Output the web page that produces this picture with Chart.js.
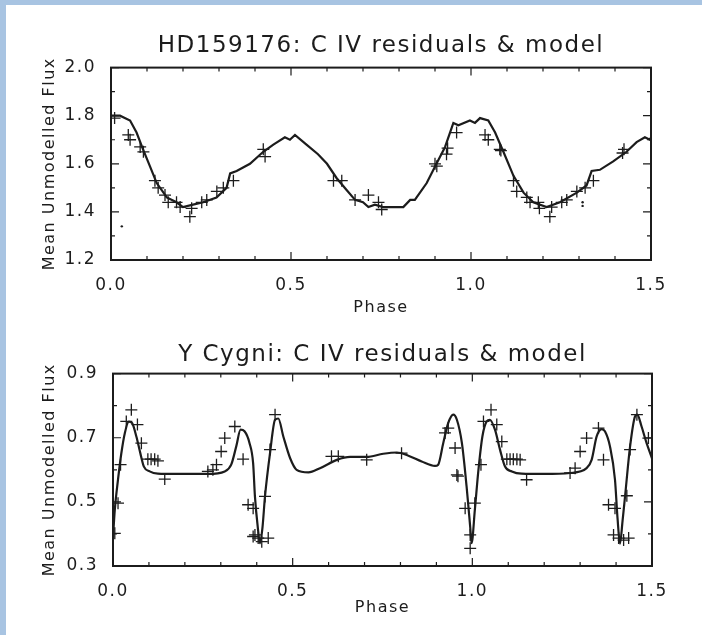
<!DOCTYPE html>
<html>
<head>
<meta charset="utf-8">
<script src="https://cdn.jsdelivr.net/npm/chart.js@4.4.1/dist/chart.umd.min.js"></script>
<style>
  html, body { margin: 0; padding: 0; }
  body { width: 702px; height: 635px; background: #a8c4e2; position: relative; overflow: hidden; }
  #sheet { position: absolute; left: 6px; top: 5px; right: 0; bottom: 0; background: #fff; }
  canvas { position: absolute; left: 0; }
  #topChart { top: 0; }
  #bottomChart { top: 320px; }
</style>
</head>
<body>
<div id="sheet"></div>
<canvas id="topChart" width="702" height="320"></canvas>
<canvas id="bottomChart" width="702" height="315"></canvas>
<script>
// HD159176 panel
const topModelPhase = [0.0, 0.025, 0.053, 0.071, 0.089, 0.108, 0.127, 0.155, 0.182, 0.2, 0.228, 0.256, 0.293, 0.321, 0.331, 0.349, 0.386, 0.423, 0.451, 0.483, 0.497, 0.511, 0.543, 0.575, 0.6, 0.627, 0.655, 0.678, 0.7, 0.715, 0.733, 0.756, 0.812, 0.831, 0.844, 0.877, 0.904, 0.928, 0.951, 0.965, 0.997, 1.011, 1.025, 1.048, 1.067, 1.09, 1.118, 1.146, 1.173, 1.21, 1.247, 1.294, 1.321, 1.335, 1.358, 1.395, 1.432, 1.46, 1.483, 1.497, 1.5];
const topModelFlux  = [1.80, 1.80, 1.78, 1.73, 1.66, 1.59, 1.52, 1.46, 1.44, 1.42, 1.43, 1.44, 1.46, 1.50, 1.56, 1.57, 1.60, 1.65, 1.68, 1.71, 1.70, 1.72, 1.68, 1.64, 1.60, 1.54, 1.49, 1.45, 1.44, 1.42, 1.43, 1.42, 1.42, 1.45, 1.45, 1.52, 1.60, 1.67, 1.77, 1.76, 1.78, 1.77, 1.79, 1.78, 1.73, 1.65, 1.55, 1.48, 1.44, 1.42, 1.44, 1.48, 1.51, 1.57, 1.575, 1.61, 1.65, 1.69, 1.71, 1.70, 1.71];
const topObsPhase = [0.01, 0.048, 0.053, 0.081, 0.09, 0.122, 0.131, 0.15, 0.159, 0.182, 0.192, 0.219, 0.224, 0.252, 0.266, 0.294, 0.312, 0.34, 0.423, 0.428, 0.618, 0.641, 0.678, 0.715, 0.743, 0.752, 0.9, 0.905, 0.932, 0.935, 0.96, 1.039, 1.048, 1.08, 1.083, 1.118, 1.127, 1.155, 1.164, 1.187, 1.19, 1.219, 1.224, 1.252, 1.266, 1.294, 1.317, 1.34, 1.421, 1.425];
const topObsFlux  = [1.79, 1.72, 1.70, 1.67, 1.65, 1.53, 1.50, 1.47, 1.44, 1.44, 1.42, 1.38, 1.415, 1.44, 1.45, 1.485, 1.50, 1.53, 1.66, 1.63, 1.53, 1.53, 1.45, 1.47, 1.44, 1.41, 1.60, 1.59, 1.64, 1.665, 1.73, 1.72, 1.70, 1.66, 1.655, 1.53, 1.485, 1.46, 1.44, 1.44, 1.415, 1.38, 1.42, 1.44, 1.45, 1.485, 1.50, 1.53, 1.645, 1.66];
const topDotPhase = [0.03, 1.31, 1.31];
const topDotFlux  = [1.34, 1.44, 1.425];
const topYTicks = [1.2, 1.4, 1.6, 1.8, 2.0];

// Y Cygni panel
const botModelPhase = [0.0, 0.005, 0.014, 0.023, 0.033, 0.044, 0.053, 0.065, 0.076, 0.086, 0.102, 0.125, 0.172, 0.264, 0.311, 0.329, 0.343, 0.355, 0.366, 0.38, 0.39, 0.395, 0.403, 0.409, 0.416, 0.423, 0.437, 0.451, 0.46, 0.474, 0.493, 0.511, 0.544, 0.576, 0.623, 0.66, 0.706, 0.752, 0.79, 0.822, 0.859, 0.896, 0.905, 0.919, 0.933, 0.947, 0.957, 0.971, 0.984, 0.994, 0.998, 1.007, 1.017, 1.028, 1.04, 1.049, 1.063, 1.077, 1.091, 1.11, 1.137, 1.202, 1.272, 1.318, 1.332, 1.346, 1.36, 1.369, 1.383, 1.397, 1.404, 1.411, 1.418, 1.425, 1.439, 1.453, 1.459, 1.471, 1.485, 1.5];
const botModelFlux  = [0.39, 0.475, 0.57, 0.65, 0.715, 0.75, 0.746, 0.704, 0.652, 0.61, 0.595, 0.588, 0.587, 0.587, 0.595, 0.616, 0.673, 0.725, 0.72, 0.683, 0.62, 0.517, 0.42, 0.371, 0.42, 0.517, 0.652, 0.756, 0.76, 0.704, 0.636, 0.60, 0.592, 0.605, 0.631, 0.64, 0.64, 0.65, 0.654, 0.644, 0.626, 0.612, 0.616, 0.683, 0.746, 0.772, 0.756, 0.683, 0.548, 0.423, 0.371, 0.475, 0.60, 0.704, 0.751, 0.756, 0.725, 0.663, 0.61, 0.595, 0.588, 0.587, 0.59, 0.605, 0.631, 0.704, 0.727, 0.72, 0.673, 0.569, 0.45, 0.37, 0.44, 0.517, 0.673, 0.767, 0.772, 0.735, 0.683, 0.636];
const botObsPhase = [0.005, 0.014, 0.021, 0.037, 0.051, 0.068, 0.079, 0.097, 0.106, 0.116, 0.125, 0.144, 0.264, 0.278, 0.288, 0.301, 0.311, 0.339, 0.362, 0.376, 0.39, 0.39, 0.395, 0.404, 0.414, 0.432, 0.423, 0.437, 0.451, 0.608, 0.627, 0.706, 0.803, 0.924, 0.933, 0.952, 0.957, 0.96, 0.98, 0.994, 0.994, 1.007, 1.024, 1.031, 1.052, 1.068, 1.082, 1.096, 1.105, 1.114, 1.124, 1.133, 1.151, 1.272, 1.286, 1.3, 1.318, 1.351, 1.365, 1.379, 1.397, 1.393, 1.407, 1.421, 1.435, 1.43, 1.439, 1.458, 1.49];
const botObsFlux  = [0.402, 0.496, 0.616, 0.751, 0.787, 0.741, 0.683, 0.633, 0.633, 0.633, 0.628, 0.571, 0.595, 0.60, 0.616, 0.657, 0.699, 0.735, 0.633, 0.491, 0.48, 0.392, 0.397, 0.387, 0.376, 0.387, 0.517, 0.663, 0.772, 0.642, 0.642, 0.631, 0.652, 0.715, 0.73, 0.668, 0.584, 0.58, 0.48, 0.397, 0.355, 0.496, 0.616, 0.751, 0.787, 0.741, 0.688, 0.633, 0.633, 0.633, 0.633, 0.631, 0.569, 0.59, 0.605, 0.657, 0.699, 0.73, 0.631, 0.491, 0.48, 0.397, 0.387, 0.381, 0.387, 0.519, 0.663, 0.772, 0.699];
const botYTicks = [0.3, 0.5, 0.7, 0.9];

const phaseTicks = [0.0, 0.5, 1.0, 1.5];

const ink = '#1c1c1c';
const family = '"DejaVu Sans", sans-serif';

const pts = (xs, ys) => xs.map((x, i) => ({ x: x, y: ys[i] }));

// box round the plot + inward IDL-style tick marks
const idlFrame = {
  id: 'idlFrame',
  beforeDraw(chart) {
    chart.ctx.letterSpacing = '1.5px';
  },
  afterDraw(chart) {
    const { ctx, chartArea: a, scales } = chart;
    ctx.save();
    ctx.letterSpacing = '0px';
    ctx.strokeStyle = ink;
    ctx.lineWidth = 2;
    ctx.strokeRect(a.left, a.top, a.right - a.left, a.bottom - a.top);
    ctx.lineWidth = 1.2;
    const marks = (scale, sub) => {
      const vals = scale.ticks.map(t => t.value);
      const out = [];
      vals.forEach((v, i) => {
        out.push({ v: v, len: 8 });
        if (i < vals.length - 1) {
          const step = (vals[i + 1] - v) / sub;
          for (let k = 1; k < sub; k++) out.push({ v: v + k * step, len: 4 });
        }
      });
      return out;
    };
    ctx.beginPath();
    marks(scales.x, 5).forEach(m => {
      const px = scales.x.getPixelForValue(m.v);
      ctx.moveTo(px, a.bottom); ctx.lineTo(px, a.bottom - m.len);
      ctx.moveTo(px, a.top); ctx.lineTo(px, a.top + m.len);
    });
    marks(scales.y, 2).forEach(m => {
      const py = scales.y.getPixelForValue(m.v);
      ctx.moveTo(a.left, py); ctx.lineTo(a.left + m.len, py);
      ctx.moveTo(a.right, py); ctx.lineTo(a.right - m.len, py);
    });
    ctx.stroke();
    ctx.restore();
  }
};

function makePanel(canvasId, cfg) {
  return new Chart(document.getElementById(canvasId), {
    type: 'line',
    data: {
      datasets: [
        {
          label: 'model',
          data: pts(cfg.modelPhase, cfg.modelFlux),
          borderColor: ink,
          borderWidth: 2.2,
          pointRadius: 0,
          tension: 0,
          cubicInterpolationMode: cfg.smooth ? 'monotone' : 'default',
          fill: false
        },
        {
          label: 'residuals',
          data: pts(cfg.obsPhase, cfg.obsFlux),
          showLine: false,
          pointStyle: 'cross',
          pointRadius: 6,
          pointBorderWidth: 1.3,
          borderColor: ink,
          backgroundColor: ink
        },
        {
          label: 'dots',
          data: pts(cfg.dotPhase || [], cfg.dotFlux || []),
          showLine: false,
          pointStyle: 'circle',
          pointRadius: 1.2,
          pointBorderWidth: 0,
          backgroundColor: ink,
          borderColor: ink
        }
      ]
    },
    options: {
      responsive: false,
      animation: false,
      layout: { padding: { top: cfg.padTop, right: cfg.padRight, bottom: 0, left: 30 } },
      plugins: {
        legend: { display: false },
        tooltip: { enabled: false },
        title: {
          display: true,
          fullSize: false,
          text: cfg.title,
          color: ink,
          font: { family: family, size: 23, weight: 'normal' },
          padding: { top: 0, bottom: cfg.titleGap }
        }
      },
      scales: {
        x: {
          type: 'linear',
          min: 0,
          max: 1.5,
          afterBuildTicks: s => { s.ticks = phaseTicks.map(v => ({ value: v })); },
          afterFit: s => { s.height = cfg.xHeight; },
          grid: { display: false },
          border: { display: false },
          ticks: {
            color: ink,
            padding: 7,
            maxRotation: 0,
            autoSkip: false,
            font: { family: family, size: 17 },
            callback: v => v.toFixed(1)
          },
          title: {
            display: true,
            text: 'Phase',
            color: ink,
            font: { family: family, size: 16 },
            padding: { top: 0, bottom: cfg.phaseGap }
          }
        },
        y: {
          type: 'linear',
          min: cfg.yTicks[0],
          max: cfg.yTicks[cfg.yTicks.length - 1],
          afterBuildTicks: s => { s.ticks = cfg.yTicks.map(v => ({ value: v })); },
          afterFit: s => { s.width = cfg.yWidth; },
          grid: { display: false },
          border: { display: false },
          ticks: {
            color: ink,
            padding: 7,
            font: { family: family, size: 17 },
            callback: v => v.toFixed(1)
          },
          title: {
            display: true,
            text: 'Mean Unmodelled Flux',
            color: ink,
            font: { family: family, size: 16 },
            padding: { top: 10, bottom: 0 }
          }
        }
      }
    },
    plugins: [idlFrame]
  });
}

makePanel('topChart', {
  title: 'HD159176: C IV residuals & model',
  modelPhase: topModelPhase, modelFlux: topModelFlux,
  obsPhase: topObsPhase, obsFlux: topObsFlux,
  dotPhase: topDotPhase, dotFlux: topDotFlux,
  yTicks: topYTicks,
  smooth: false,
  padTop: 32, titleGap: 8, padRight: 51,
  xHeight: 60, phaseGap: 3, yWidth: 81
});

makePanel('bottomChart', {
  title: 'Y Cygni: C IV residuals & model',
  modelPhase: botModelPhase, modelFlux: botModelFlux,
  obsPhase: botObsPhase, obsFlux: botObsFlux,
  yTicks: botYTicks,
  smooth: true,
  padTop: 21, titleGap: 5, padRight: 50,
  xHeight: 69, phaseGap: 18, yWidth: 83
});
</script>
</body>
</html>
